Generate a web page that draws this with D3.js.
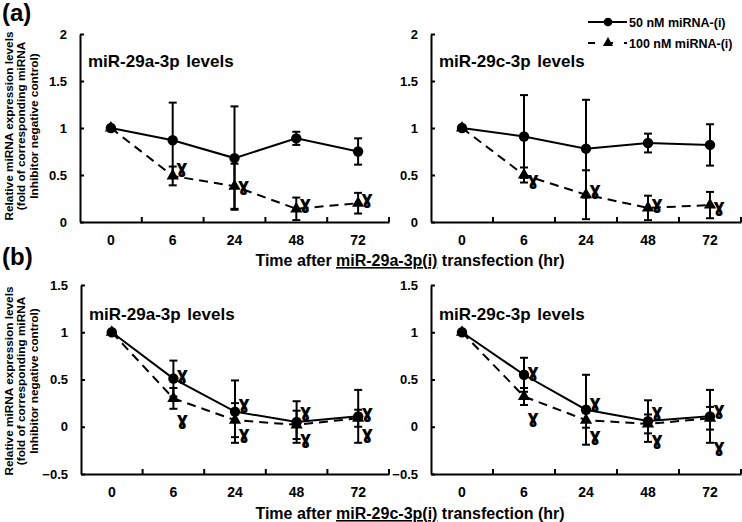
<!DOCTYPE html>
<html>
<head>
<meta charset="utf-8">
<script src="https://cdn.jsdelivr.net/npm/d3@7"></script>
<style>
  body { margin: 0; background: #fff; }
  svg { font-family: "Liberation Sans", Arial, sans-serif; font-weight: bold; }
  .axis path, .axis line { stroke: #000; stroke-width: 2; }
  .axis text { font-size: 13px; font-weight: bold; fill: #000; }
  .xaxis text { font-size: 14px; }
</style>
</head>
<body>
<svg width="742" height="522"></svg>
<script>
// **** data ****
var times = ["0", "6", "24", "48", "72"];

// (a) miR-29a-3p(i) transfection
var a29a_50 = [1, 0.87, 0.68, 0.89, 0.75];
var a29a_50err = [0, 0.40, 0.55, 0.07, 0.14];
var a29a_100 = [1, 0.49, 0.38, 0.14, 0.20];
var a29a_100err = [0, 0.10, 0.24, 0.12, 0.11];
var a29a_sig50 = [null, null, null, null, null];
var a29a_sig100 = [null, 0.59, 0.40, 0.21, 0.26];

var a29c_50 = [1, 0.91, 0.78, 0.84, 0.82];
var a29c_50err = [0, 0.44, 0.52, 0.10, 0.22];
var a29c_100 = [1, 0.50, 0.29, 0.15, 0.18];
var a29c_100err = [0, 0.08, 0.26, 0.13, 0.14];
var a29c_sig50 = [null, null, null, null, null];
var a29c_sig100 = [null, 0.46, 0.36, 0.21, 0.18];

// (b) miR-29c-3p(i) transfection
var b29a_50 = [1, 0.51, 0.16, 0.05, 0.11];
var b29a_50err = [0, 0.19, 0.33, 0.22, 0.28];
var b29a_100 = [1, 0.30, 0.07, 0.02, 0.09];
var b29a_100err = [0, 0.11, 0.18, 0.15, 0.09];
var b29a_sig50 = [null, 0.56, 0.26, 0.17, 0.16];
var b29a_sig100 = [null, 0.09, -0.06, -0.11, -0.06];

var b29c_50 = [1, 0.55, 0.18, 0.06, 0.11];
var b29c_50err = [0, 0.18, 0.37, 0.22, 0.28];
var b29c_100 = [1, 0.32, 0.07, 0.03, 0.09];
var b29c_100err = [0, 0.09, 0.08, 0.10, 0.12];
var b29c_sig50 = [null, 0.59, 0.27, 0.17, 0.19];
var b29c_sig100 = [null, 0.11, -0.08, -0.12, -0.20];

var ticksA = [0, 0.5, 1, 1.5, 2];
var ticksB = [-0.5, 0, 0.5, 1, 1.5];

var svg = d3.select('svg');

// **** panels ****
var panels = [
  {x0: 80, x1: 389, yTop: 34, yBot: 222, dom: [0, 2], ticks: ticksA, title: 'miR-29a-3p levels', titleY: 67,
   s50: a29a_50, e50: a29a_50err, s100: a29a_100, e100: a29a_100err, g50: a29a_sig50, g100: a29a_sig100},
  {x0: 431, x1: 741, yTop: 34, yBot: 222, dom: [0, 2], ticks: ticksA, title: 'miR-29c-3p levels', titleY: 67,
   s50: a29c_50, e50: a29c_50err, s100: a29c_100, e100: a29c_100err, g50: a29c_sig50, g100: a29c_sig100},
  {x0: 81, x1: 389, yTop: 285, yBot: 474, dom: [-0.5, 1.5], ticks: ticksB, title: 'miR-29a-3p levels', titleY: 320,
   s50: b29a_50, e50: b29a_50err, s100: b29a_100, e100: b29a_100err, g50: b29a_sig50, g100: b29a_sig100},
  {x0: 431, x1: 741, yTop: 285, yBot: 474, dom: [-0.5, 1.5], ticks: ticksB, title: 'miR-29c-3p levels', titleY: 320,
   s50: b29c_50, e50: b29c_50err, s100: b29c_100, e100: b29c_100err, g50: b29c_sig50, g100: b29c_sig100}
];

panels.forEach(function(p) {
  var x = d3.scaleBand().domain(times).range([p.x0, p.x1]);
  var cx = function(t) { return x(t) + x.bandwidth() / 2; };
  var y = d3.scaleLinear().domain(p.dom).range([p.yBot, p.yTop]);
  var g = svg.append('g');

  // y axis (inside ticks)
  g.append('g').attr('class', 'axis')
    .attr('transform', 'translate(' + p.x0 + ',0)')
    .call(d3.axisLeft(y).tickValues(p.ticks).tickSizeInner(-4).tickSizeOuter(0).tickPadding(13)
      .tickFormat(function(d) { return d3.format('')(d); }));

  // x axis
  var xa = g.append('g').attr('class', 'axis xaxis')
    .attr('transform', 'translate(0,' + p.yBot + ')')
    .call(d3.axisBottom(x).tickSize(0).tickPadding(13));
  xa.selectAll('.tick text').attr('dy', '0.71em');
  var edges = times.map(function(t) { return x(t); }).slice(1).concat([p.x1]);
  xa.selectAll('.edge').data(edges).enter().append('line')
    .attr('x1', function(d) { return d; }).attr('x2', function(d) { return d; })
    .attr('y1', 0).attr('y2', -5)
    .attr('stroke', '#000').attr('stroke-width', 2);

  // title
  g.append('text').attr('x', p.x0 + 8).attr('y', p.titleY)
    .attr('font-size', '17px').attr('word-spacing', '2px')
    .text(p.title);

  var series = [
    {v: p.s50, e: p.e50, dash: null, shape: d3.symbolCircle, size: 85},
    {v: p.s100, e: p.e100, dash: '9,6', shape: d3.symbolTriangle, size: 65}
  ];

  series.forEach(function(s) {
    var pts = times.map(function(t, i) { return {t: t, v: s.v[i], e: s.e[i]}; });
    // error bars
    var eb = g.append('g');
    pts.filter(function(d) { return d.e > 0; }).forEach(function(d) {
      eb.append('line').attr('x1', cx(d.t)).attr('x2', cx(d.t))
        .attr('y1', y(d.v + d.e)).attr('y2', y(d.v - d.e))
        .attr('stroke', '#000').attr('stroke-width', 2);
      [d.v + d.e, d.v - d.e].forEach(function(c) {
        eb.append('line').attr('x1', cx(d.t) - 4).attr('x2', cx(d.t) + 4)
          .attr('y1', y(c)).attr('y2', y(c))
          .attr('stroke', '#000').attr('stroke-width', 2);
      });
    });
    g.append('path').datum(pts)
      .attr('fill', 'none').attr('stroke', '#000').attr('stroke-width', 2)
      .attr('stroke-dasharray', s.dash)
      .attr('d', d3.line().x(function(d) { return cx(d.t); }).y(function(d) { return y(d.v); }));
    g.selectAll(null).data(pts).enter().append('path')
      .attr('transform', function(d) { return 'translate(' + cx(d.t) + ',' + y(d.v) + ')'; })
      .attr('d', d3.symbol().type(s.shape).size(s.size))
      .attr('fill', '#000');
  });

  // significance marks
  [p.g50, p.g100].forEach(function(arr) {
    g.selectAll(null).data(times.map(function(t, i) { return {t: t, v: arr[i]}; })
        .filter(function(d) { return d.v !== null; }))
      .enter().append('text')
      .attr('x', function(d) { return cx(d.t) + 9; })
      .attr('y', function(d) { return y(d.v); })
      .attr('dominant-baseline', 'central').attr('text-anchor', 'middle')
      .attr('font-size', '18px').attr('font-weight', 'bold')
      .attr('font-family', 'DejaVu Sans, sans-serif')
      .text('ɣ');
  });
});

// **** axis titles ****
[{y: 266, name: 'miR-29a-3p(i)'}, {y: 519, name: 'miR-29c-3p(i)'}].forEach(function(t) {
  var tx = svg.append('text').attr('x', 410).attr('y', t.y)
    .attr('text-anchor', 'middle').attr('font-size', '16px');
  tx.append('tspan').text('Time after ');
  tx.append('tspan').attr('text-decoration', 'underline').text(t.name);
  tx.append('tspan').text(' transfection (hr)');
});

// **** y labels ****
var ylab = ['Relative miRNA expression levels', '(fold of corresponding miRNA', 'Inhibitor negative control)'];
[126, 381].forEach(function(cy) {
  var gl = svg.append('g').attr('transform', 'translate(0,' + cy + ') rotate(-90)');
  ylab.forEach(function(l, i) {
    gl.append('text').attr('x', 0).attr('y', 12.5 + i * 12.5)
      .attr('text-anchor', 'middle').attr('font-size', '11.8px').text(l);
  });
});

// **** panel letters ****
svg.append('text').attr('x', 2).attr('y', 21).attr('font-size', '24px').text('(a)');
svg.append('text').attr('x', 2).attr('y', 265).attr('font-size', '24px').text('(b)');

// **** legend ****
var leg = svg.append('g');
[{y: 22, dash: null, shape: d3.symbolCircle, size: 60, label: '50 nM miRNA-(i)'},
 {y: 43, dash: '7,11', shape: d3.symbolTriangle, size: 45, label: '100 nM miRNA-(i)'}].forEach(function(l) {
  leg.append('line').attr('x1', 588).attr('x2', 627).attr('y1', l.y).attr('y2', l.y)
    .attr('stroke', '#000').attr('stroke-width', 2).attr('stroke-dasharray', l.dash);
  leg.append('path').attr('transform', 'translate(608,' + l.y + ')')
    .attr('d', d3.symbol().type(l.shape).size(l.size)).attr('fill', '#000');
  leg.append('text').attr('x', 629).attr('y', l.y + 4.5).attr('font-size', '12.5px').text(l.label);
});
</script>
</body>
</html>
